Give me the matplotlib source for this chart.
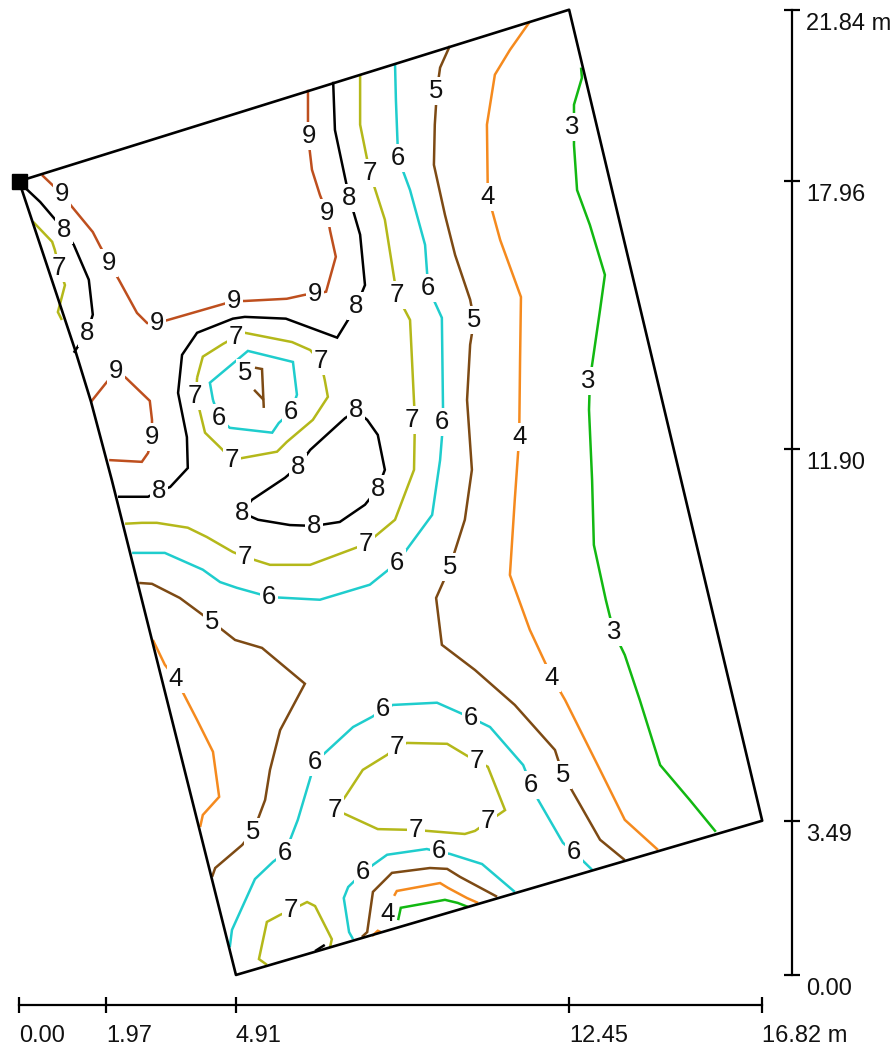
#!/usr/bin/env python3
# Contour map of a surveyed plot, all coordinates in metres.

import matplotlib
matplotlib.use("Agg")
import matplotlib.pyplot as plt
from matplotlib.transforms import ScaledTranslation

plt.rcParams["font.family"] = ["Liberation Sans", "DejaVu Sans"]
plt.rcParams["text.kerning_factor"] = 6

x_ticks = [0.00, 1.97, 4.91, 12.45, 16.82]
x_tick_labels = ["0.00", "1.97", "4.91", "12.45", "16.82 m"]
y_ticks = [0.00, 3.49, 11.90, 17.96, 21.84]
y_tick_labels = ["0.00", "3.49", "11.90", "17.96", "21.84 m"]

# The left edge of the plot is slightly bowed.
plot_x = [0.00, 12.45, 16.82, 4.91, 2.10, 1.63, 1.27, 0.00]
plot_y = [17.96, 21.84, 3.49, 0.00, 11.20, 12.97, 14.14, 17.96]

# Contour lines per level, each one (x, y).
level_3 = [
    ([12.72, 12.74, 12.56, 12.56, 12.63, 12.92, 13.26, 13.15, 12.92, 12.90, 12.97, 13.01, 13.28, 13.46, 13.71, 14.05, 14.51, 15.18, 15.77],
     [20.53, 20.30, 19.69, 18.78, 17.76, 16.97, 15.84, 15.05, 13.46, 12.79, 11.20, 9.73, 8.49, 7.76, 7.24, 6.22, 4.75, 3.96, 3.24]),
    ([8.58, 8.64, 9.64, 9.93, 10.16],
     [1.24, 1.52, 1.70, 1.63, 1.54]),
]
level_4 = [
    ([11.56, 11.11, 10.77, 10.59, 10.61, 10.89, 11.36, 11.34, 11.32, 11.22, 11.11, 11.56, 12.06, 12.36, 13.15, 13.71, 14.46],
     [21.57, 20.93, 20.37, 19.24, 17.65, 16.63, 15.34, 13.92, 12.17, 10.75, 9.05, 7.81, 6.74, 6.22, 4.64, 3.51, 2.83]),
    ([3.03, 3.30, 3.55, 4.03, 4.39, 4.53, 4.16, 4.10],
     [7.58, 7.02, 6.70, 5.77, 5.05, 4.03, 3.62, 3.35]),
    ([8.49, 8.55, 9.53, 9.71, 10.14, 10.39],
     [1.79, 1.90, 2.08, 1.97, 1.74, 1.63]),
    ([7.99, 8.12, 8.19],
     [0.88, 1.00, 0.97]),
]
level_5 = [
    ([9.75, 9.53, 9.46, 9.41, 9.39, 9.64, 9.87, 10.21, 10.30, 10.21, 10.14, 10.25, 10.09, 9.75, 9.44, 9.57, 10.32, 11.22, 12.13, 12.31, 12.70, 13.15, 13.71],
     [21.02, 20.53, 20.03, 19.24, 18.33, 17.20, 16.29, 15.28, 14.82, 14.26, 13.01, 11.43, 10.30, 9.23, 8.53, 7.47, 6.90, 6.11, 5.09, 4.53, 3.85, 3.06, 2.60]),
    ([2.72, 3.01, 3.64, 4.37, 4.89, 5.50, 6.47, 5.91, 5.68, 5.57, 5.30, 5.05, 4.44, 4.37],
     [8.87, 8.85, 8.53, 7.99, 7.58, 7.40, 6.59, 5.54, 4.64, 3.96, 3.24, 2.94, 2.42, 2.22]),
    ([7.76, 7.88, 8.01, 8.44, 9.30, 9.69, 9.98, 10.82],
     [0.86, 0.97, 1.88, 2.31, 2.42, 2.40, 2.22, 1.77]),
    ([5.34, 5.50, 5.54],
     [13.74, 13.71, 12.83]),
    ([5.32, 5.54],
     [13.24, 13.01]),
]
level_6 = [
    ([8.51, 8.53, 8.58, 8.85, 9.19, 9.26, 9.57, 9.60, 9.53, 9.35, 8.55, 7.94, 6.81, 5.68, 4.93, 4.55, 4.16, 3.30, 2.56],
     [20.62, 19.80, 18.49, 17.76, 16.52, 15.55, 14.87, 12.51, 11.65, 10.41, 9.32, 8.83, 8.49, 8.55, 8.76, 8.89, 9.17, 9.55, 9.55]),
    ([4.39, 4.32, 5.18, 6.20, 6.29, 6.16, 5.88, 5.73, 4.77, 4.53, 4.39],
     [13.01, 13.40, 14.12, 13.87, 13.13, 12.74, 12.49, 12.27, 12.38, 12.60, 13.01]),
    ([4.77, 4.82, 5.34, 5.75, 6.02, 6.31, 6.70, 6.92, 7.56, 7.99, 8.24, 8.46, 9.46, 9.98, 10.23, 10.66, 11.41, 11.59, 11.75, 12.31, 12.58, 12.97],
     [0.63, 1.02, 2.17, 2.56, 2.76, 3.51, 4.82, 5.02, 5.61, 5.84, 6.00, 6.11, 6.16, 5.93, 5.82, 5.61, 4.75, 4.30, 3.96, 2.99, 2.76, 2.38]),
    ([7.56, 7.47, 7.35, 7.45, 7.78, 8.01, 8.33, 9.23, 9.50, 9.75, 10.48, 11.22],
     [0.81, 0.97, 1.74, 1.99, 2.31, 2.49, 2.72, 2.85, 2.78, 2.74, 2.51, 1.88]),
]
level_7 = [
    ([7.72, 7.72, 7.94, 8.28, 8.55, 8.85, 8.96, 8.94, 8.51, 7.85, 6.59, 5.68, 5.11, 4.84, 4.25, 3.82, 3.12, 2.78, 2.40],
     [20.37, 19.24, 18.15, 17.09, 15.39, 14.82, 12.56, 11.43, 10.30, 9.75, 9.28, 9.28, 9.46, 9.57, 9.91, 10.12, 10.23, 10.23, 10.21]),
    ([4.03, 4.16, 4.62, 4.91, 5.11, 6.18, 6.59, 6.83, 6.92, 6.99, 6.65, 6.06, 5.84, 5.07, 4.82, 4.59, 4.21, 4.10, 4.01, 4.03],
     [13.51, 13.99, 14.28, 14.44, 14.53, 14.32, 14.14, 13.87, 13.46, 13.08, 12.56, 12.06, 11.84, 11.70, 11.65, 11.90, 12.27, 12.72, 13.10, 13.51]),
    ([0.32, 0.75, 0.81, 0.91, 1.04, 0.88, 0.97],
     [17.04, 16.59, 16.41, 16.00, 15.61, 15.00, 14.82]),
    ([7.38, 7.78, 8.33, 8.55, 8.78, 9.69, 10.14, 10.36, 10.61, 11.00, 10.84, 10.61, 10.32, 10.09, 9.23, 8.98, 8.12, 7.38, 7.15, 7.38],
     [4.03, 4.64, 4.98, 5.16, 5.25, 5.23, 4.96, 4.84, 4.71, 3.73, 3.62, 3.46, 3.26, 3.19, 3.26, 3.28, 3.30, 3.64, 3.73, 4.03]),
    ([5.61, 5.43, 5.61, 5.91, 6.16, 6.52, 6.70, 7.08, 7.04],
     [0.23, 0.36, 1.20, 1.36, 1.47, 1.65, 1.56, 0.81, 0.63]),
]
level_8 = [
    ([0.14, 0.48, 0.77, 1.02, 1.24, 1.58, 1.67, 1.54, 1.24],
     [17.81, 17.49, 17.15, 16.86, 16.52, 15.73, 14.94, 14.53, 14.08]),
    ([7.11, 7.15, 7.47, 7.72, 7.83, 7.63, 7.20, 6.04, 5.11, 4.84, 4.03, 3.69, 3.60, 3.80, 3.82, 3.42, 3.17, 2.92, 2.24],
     [20.21, 19.12, 17.61, 16.75, 15.61, 15.12, 14.42, 14.85, 14.89, 14.85, 14.53, 14.03, 13.17, 12.17, 11.47, 11.04, 10.95, 10.82, 10.82]),
    ([7.63, 7.38, 6.59, 6.31, 6.02, 5.27, 5.05, 5.41, 6.13, 6.68, 7.26, 7.83, 8.12, 8.28, 8.12, 7.88, 7.63],
     [12.76, 12.60, 11.88, 11.50, 11.25, 10.75, 10.46, 10.30, 10.18, 10.16, 10.25, 10.64, 11.00, 11.43, 12.22, 12.56, 12.76]),
    ([6.70, 6.92],
     [0.54, 0.68]),
]
level_9 = [
    ([0.52, 0.75, 0.97, 1.20, 1.67, 1.83, 2.04, 2.26, 2.67, 2.90, 3.12, 3.37, 4.62, 4.87, 5.11, 6.06, 6.47, 6.70, 6.95, 7.17, 7.04, 6.97, 6.81, 6.63, 6.54, 6.54],
     [18.10, 17.88, 17.67, 17.38, 16.81, 16.50, 16.11, 15.73, 14.98, 14.75, 14.75, 14.82, 15.18, 15.25, 15.25, 15.30, 15.39, 15.41, 15.46, 16.25, 16.84, 17.24, 17.65, 18.22, 18.99, 20.03]),
    ([1.63, 1.95, 2.20, 2.42, 2.96, 3.01, 3.01, 2.92, 2.78, 2.04],
     [12.97, 13.37, 13.67, 13.51, 12.99, 12.56, 12.17, 11.81, 11.61, 11.65]),
]

# Where each level number sits on its lines.
labels_3 = [(12.51, 19.19), (12.88, 13.44), (13.46, 7.76)]
labels_4 = [(10.61, 17.61), (11.32, 12.17), (12.06, 6.72), (3.55, 6.70), (8.33, 1.38)]
labels_5 = [(9.44, 20.00), (10.30, 14.82), (9.75, 9.23), (12.31, 4.53), (4.37, 7.99), (5.30, 3.24), (5.11, 13.62)]
labels_6 = [(8.58, 18.49), (9.26, 15.55), (9.57, 12.51), (8.55, 9.32), (5.66, 8.55), (4.53, 12.60), (6.16, 12.74),
            (8.24, 6.02), (10.23, 5.82), (6.70, 4.82), (11.59, 4.30), (12.56, 2.78), (6.02, 2.76), (7.78, 2.33), (9.50, 2.81)]
labels_7 = [(7.94, 18.15), (8.55, 15.39), (8.89, 12.56), (7.85, 9.75), (5.11, 9.46), (4.91, 14.44), (6.83, 13.89),
            (3.98, 13.10), (4.82, 11.65), (0.91, 16.00), (8.55, 5.16), (10.36, 4.84), (7.15, 3.73), (8.98, 3.28),
            (10.61, 3.49), (6.16, 1.47)]
labels_8 = [(7.47, 17.58), (7.63, 15.14), (1.02, 16.86), (1.54, 14.53), (3.17, 10.95), (7.63, 12.79), (6.31, 11.50),
            (5.05, 10.46), (6.68, 10.16), (8.12, 11.00)]
labels_9 = [(0.97, 17.67), (2.04, 16.11), (3.12, 14.75), (4.87, 15.25), (6.70, 15.41), (6.97, 17.24), (6.56, 18.99),
            (2.20, 13.67), (3.01, 12.17)]

levels = [
    (3, level_3, labels_3, "#12B812"),
    (4, level_4, labels_4, "#F58A1E"),
    (5, level_5, labels_5, "#7D4A14"),
    (6, level_6, labels_6, "#1FCDCD"),
    (7, level_7, labels_7, "#B4B81A"),
    (8, level_8, labels_8, "#000000"),
    (9, level_9, labels_9, "#BE4F1E"),
]

fig = plt.figure(figsize=(8.93, 10.47), dpi=100)
ax = fig.add_axes([0, 0, 1, 1])
ax.set_xlim(-0.43, 19.78)
ax.set_ylim(-1.63, 22.06)

for level, lines, labels, color in levels:
    for xs, ys in lines:
        ax.plot(xs, ys, color=color, lw=1.8, solid_joinstyle="miter", solid_capstyle="butt", zorder=2)
    for x, y in labels:
        ax.text(x, y, str(level), fontsize=18.5, color="#111111", ha="center", va="center", zorder=3,
                bbox=dict(facecolor="white", edgecolor="none", pad=1.5))

ax.plot(plot_x, plot_y, color="black", lw=1.9, zorder=4)
ax.plot(plot_x[0], plot_y[0], marker="s", ms=10.8, color="black", zorder=5)

# Rulers are the axes themselves, moved next to the plot.
ax.spines["top"].set_visible(False)
ax.spines["left"].set_visible(False)
ax.spines["bottom"].set_position(("data", -0.68))
ax.spines["bottom"].set_bounds(0.00, 16.82)
ax.spines["right"].set_position(("data", 17.49))
ax.spines["right"].set_bounds(0.00, 21.84)
ax.spines["bottom"].set_linewidth(1.6)
ax.spines["right"].set_linewidth(1.6)
ax.yaxis.tick_right()
ax.set_xticks(x_ticks, x_tick_labels, ha="left")
ax.set_yticks(y_ticks, y_tick_labels, va="center")
ax.tick_params(axis="both", direction="inout", length=11.5, width=1.6, labelsize=17, labelcolor="#111111")
ax.tick_params(axis="x", pad=8.3)
ax.tick_params(axis="y", pad=4.5)
shift = ScaledTranslation(0, -14 / 100, fig.dpi_scale_trans)
for label in ax.get_yticklabels():
    label.set_transform(label.get_transform() + shift)

fig.savefig("out.png", dpi=100)
